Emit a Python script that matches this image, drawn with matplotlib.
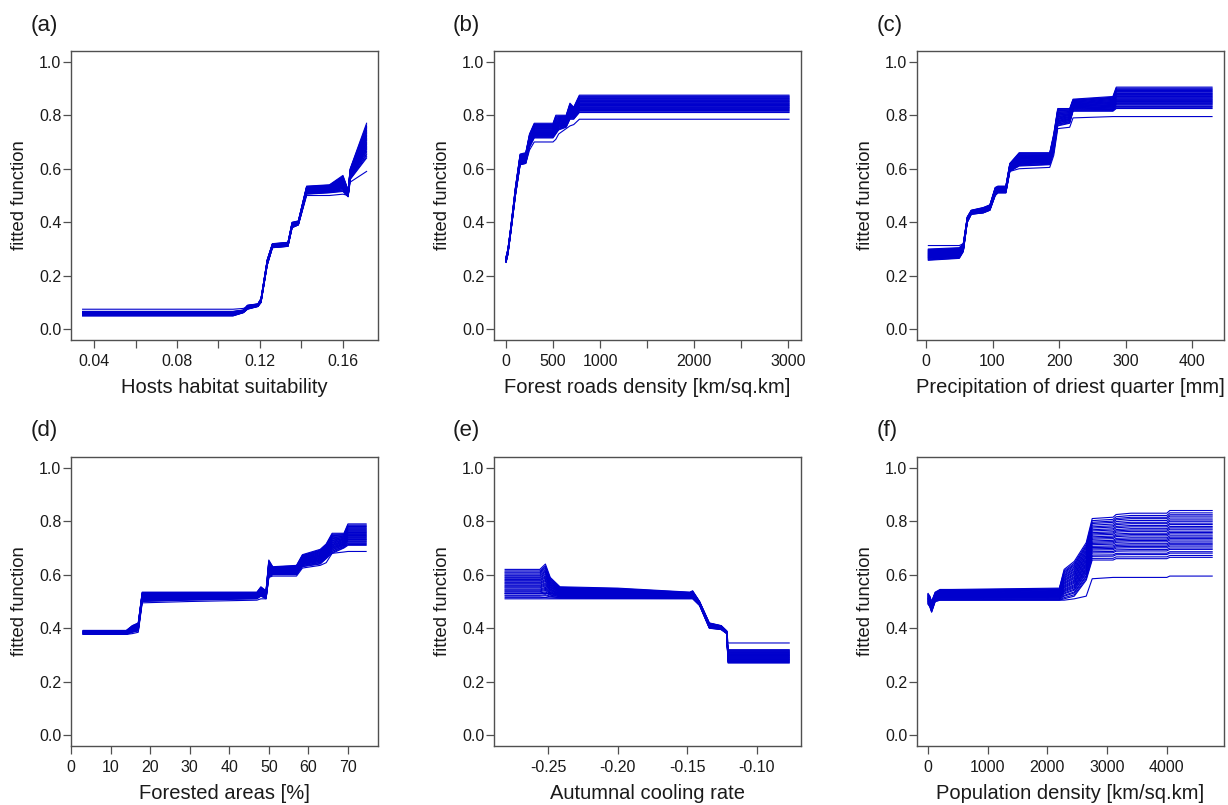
import matplotlib
matplotlib.use('Agg')
import matplotlib.pyplot as plt
import numpy as np

plt.rcParams['font.family'] = ['Liberation Sans', 'DejaVu Sans']
plt.rcParams['axes.unicode_minus'] = False

# relative position of each ensemble member inside the band (0 = lower edge, 1 = upper edge)
member_frac = [0.0, 0.04, 0.09, 0.12, 0.17, 0.2, 0.24, 0.27, 0.3, 0.33, 0.37, 0.4,
               0.43, 0.46, 0.5, 0.53, 0.56, 0.6, 0.63, 0.66, 0.7, 0.73, 0.77, 0.8,
               0.84, 0.88, 0.91, 0.95, 1.0]

# (a) Hosts habitat suitability
x_a = [0.0345, 0.107, 0.112, 0.114, 0.119, 0.1205, 0.1235, 0.126, 0.1335, 0.1355,
       0.1385, 0.1425, 0.1535, 0.160, 0.1625, 0.1635, 0.1714]
lo_a = [0.050, 0.050, 0.062, 0.075, 0.085, 0.100, 0.240, 0.305, 0.310, 0.380,
        0.390, 0.505, 0.510, 0.515, 0.495, 0.560, 0.640]
hi_a = [0.067, 0.067, 0.072, 0.090, 0.095, 0.115, 0.260, 0.320, 0.325, 0.400,
        0.405, 0.535, 0.540, 0.575, 0.520, 0.600, 0.770]
out_a = [0.075, 0.075, 0.078, 0.085, 0.090, 0.100, 0.240, 0.305, 0.310, 0.380,
         0.390, 0.500, 0.500, 0.505, 0.500, 0.550, 0.590]

# (b) Forest roads density
x_b = [0, 20, 50, 100, 150, 210, 250, 300, 500, 530, 560, 640, 680, 720, 780, 3010]
lo_b = [0.25, 0.28, 0.36, 0.50, 0.615, 0.62, 0.68, 0.715, 0.715, 0.73, 0.745, 0.755,
        0.785, 0.785, 0.81, 0.81]
hi_b = [0.27, 0.30, 0.38, 0.53, 0.655, 0.66, 0.73, 0.77, 0.77, 0.80, 0.80, 0.80,
        0.845, 0.83, 0.875, 0.875]
out_b = [0.25, 0.28, 0.36, 0.50, 0.615, 0.62, 0.67, 0.70, 0.70, 0.71, 0.73, 0.75,
         0.76, 0.765, 0.785, 0.785]

# (c) Precipitation of driest quarter
x_c = [3.5, 50, 56, 62, 68, 86, 96, 104, 108, 120, 126, 140, 186, 192, 198, 216,
       221, 281, 286, 430]
lo_c = [0.258, 0.265, 0.29, 0.40, 0.43, 0.435, 0.445, 0.50, 0.51, 0.51, 0.59, 0.61,
        0.615, 0.66, 0.76, 0.77, 0.815, 0.815, 0.825, 0.825]
hi_c = [0.300, 0.305, 0.32, 0.42, 0.445, 0.455, 0.465, 0.53, 0.535, 0.535, 0.62, 0.66,
        0.66, 0.73, 0.825, 0.825, 0.86, 0.87, 0.905, 0.905]
out_c = [0.313, 0.313, 0.32, 0.40, 0.43, 0.435, 0.445, 0.50, 0.51, 0.51, 0.59, 0.60,
         0.605, 0.65, 0.75, 0.755, 0.79, 0.795, 0.795, 0.795]

# (d) Forested areas
x_d = [3.1, 14, 15.5, 17, 18, 30, 47, 48, 49.3, 50, 51, 57, 58.5, 63, 64.5, 66, 69,
       70, 74.6]
lo_d = [0.377, 0.377, 0.385, 0.39, 0.50, 0.505, 0.51, 0.52, 0.51, 0.59, 0.60, 0.60,
        0.63, 0.64, 0.66, 0.68, 0.70, 0.71, 0.71]
hi_d = [0.392, 0.392, 0.41, 0.42, 0.535, 0.535, 0.535, 0.555, 0.54, 0.655, 0.63,
        0.635, 0.675, 0.695, 0.715, 0.755, 0.755, 0.79, 0.79]
out_d = [0.377, 0.377, 0.38, 0.385, 0.495, 0.50, 0.505, 0.51, 0.51, 0.59, 0.595,
         0.595, 0.625, 0.635, 0.645, 0.68, 0.685, 0.687, 0.687]

# (e) Autumnal cooling rate
x_e = [-0.281, -0.256, -0.252, -0.2485, -0.2415, -0.20, -0.148, -0.146, -0.141,
       -0.134, -0.1255, -0.1215, -0.1205, -0.0765]
lo_e = [0.51, 0.51, 0.51, 0.51, 0.51, 0.51, 0.51, 0.51, 0.485, 0.40, 0.395, 0.38,
        0.27, 0.27]
hi_e = [0.62, 0.62, 0.64, 0.59, 0.555, 0.55, 0.535, 0.54, 0.50, 0.42, 0.41, 0.39,
        0.32, 0.32]
out_e = [0.53, 0.53, 0.53, 0.53, 0.53, 0.53, 0.52, 0.52, 0.49, 0.41, 0.41, 0.39,
         0.345, 0.345]

# (f) Population density
x_f = [0, 30, 60, 120, 200, 400, 2200, 2280, 2450, 2650, 2750, 3100, 3150, 3400,
       4000, 4050, 4760]
lo_f = [0.49, 0.48, 0.46, 0.50, 0.505, 0.505, 0.505, 0.51, 0.52, 0.58, 0.655, 0.655,
        0.66, 0.66, 0.66, 0.665, 0.665]
hi_f = [0.53, 0.52, 0.50, 0.535, 0.545, 0.545, 0.55, 0.62, 0.65, 0.72, 0.81, 0.815,
        0.825, 0.83, 0.83, 0.84, 0.84]
out_f = [0.51, 0.50, 0.48, 0.50, 0.505, 0.505, 0.505, 0.505, 0.51, 0.52, 0.585, 0.59,
         0.59, 0.59, 0.59, 0.595, 0.595]

x_labels = ['Hosts habitat suitability', 'Forest roads density [km/sq.km]',
            'Precipitation of driest quarter [mm]', 'Forested areas [%]',
            'Autumnal cooling rate', 'Population density [km/sq.km]']
panel_tags = ['(a)', '(b)', '(c)', '(d)', '(e)', '(f)']

x_ticks = [[0.04, 0.06, 0.08, 0.10, 0.12, 0.14, 0.16],
           [0, 500, 1000, 1500, 2000, 2500, 3000],
           [0, 100, 200, 300, 400],
           [0, 10, 20, 30, 40, 50, 60, 70],
           [-0.25, -0.20, -0.15, -0.10],
           [0, 1000, 2000, 3000, 4000]]
x_tick_labels = [['0.04', '', '0.08', '', '0.12', '', '0.16'],
                 ['0', '500', '1000', '', '2000', '', '3000'],
                 ['0', '100', '200', '300', '400'],
                 ['0', '10', '20', '30', '40', '50', '60', '70'],
                 ['-0.25', '-0.20', '-0.15', '-0.10'],
                 ['0', '1000', '2000', '3000', '4000']]
x_limits = [(0.0289, 0.1769), (-128, 3138), (-13.6, 448), (0.2, 77.6),
            (-0.289, -0.068), (-185, 4958)]

series = [(x_a, lo_a, hi_a, out_a), (x_b, lo_b, hi_b, out_b), (x_c, lo_c, hi_c, out_c),
          (x_d, lo_d, hi_d, out_d), (x_e, lo_e, hi_e, out_e), (x_f, lo_f, hi_f, out_f)]

W, H = 1228, 805
fig = plt.figure(figsize=(W / 100, H / 100), dpi=100)

col_left = [71, 494, 917]
row_top = [51, 457]
ax_w, ax_h = 307, 289
tag_x = [31, 453, 877]
tag_y = [25, 430]

line_col = '#0000CD'
frame_col = '#505050'

for i in range(6):
    r, c = divmod(i, 3)
    ax = fig.add_axes([col_left[c] / W, (H - row_top[r] - ax_h) / H, ax_w / W, ax_h / H])
    xs, lo, hi, out = series[i]
    xs = np.array(xs)
    lo = np.array(lo)
    hi = np.array(hi)
    for f in member_frac:
        ax.plot(xs, lo + f * (hi - lo), color=line_col, lw=0.8)
    ax.plot(xs, out, color=line_col, lw=0.8)

    ax.set_xlim(*x_limits[i])
    ax.set_ylim(-0.04, 1.04)
    ax.set_xticks(x_ticks[i])
    ax.set_xticklabels(x_tick_labels[i])
    ax.set_yticks([0, 0.2, 0.4, 0.6, 0.8, 1.0])
    ax.set_yticklabels(['0.0', '0.2', '0.4', '0.6', '0.8', '1.0'])
    ax.tick_params(length=6, width=0.9, color=frame_col, labelsize=11.5,
                   labelcolor='#1a1a1a')
    ax.tick_params(axis='y', pad=1)
    ax.tick_params(axis='x', pad=4)
    for s in ax.spines.values():
        s.set_color(frame_col)
        s.set_linewidth(1.0)

    ax.set_xlabel(x_labels[i], fontsize=14.5, color='#1a1a1a')
    ax.xaxis.set_label_coords(0.5, -0.163)
    ax.xaxis.label.set_va('center')
    ax.set_ylabel('fitted function', fontsize=13.3, color='#1a1a1a')
    ax.yaxis.set_label_coords(-0.167, 0.5)
    ax.yaxis.label.set_va('center')

    fig.text(tag_x[c] / W, 1 - tag_y[r] / H, panel_tags[i], fontsize=16,
             ha='left', va='center', color='#1a1a1a')

fig.savefig('out.png', dpi=100)
